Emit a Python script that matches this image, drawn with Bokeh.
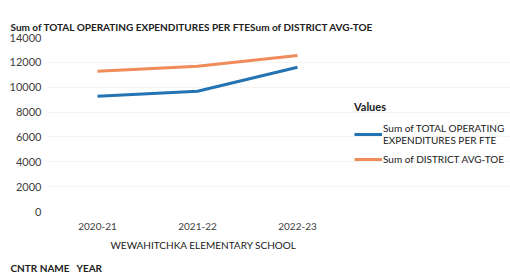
from bokeh.plotting import figure
from bokeh.models import Legend, LegendItem, ColumnDataSource, Title, Range1d, FixedTicker
from bokeh.embed import file_html
from bokeh.resources import INLINE

years = ["2020-21", "2021-22", "2022-23"]
total_opex_per_fte = [9280, 9680, 11600]
district_avg_toe = [11280, 11680, 12560]
series_names = ["Sum of TOTAL OPERATING\nEXPENDITURES PER FTE", "Sum of DISTRICT AVG-TOE"]
title_text = "Sum of TOTAL OPERATING EXPENDITURES PER FTESum of DISTRICT AVG-TOE"
school = "WEWAHITCHKA ELEMENTARY SCHOOL"
bottom_text = "CNTR NAME\u00a0\u00a0\u00a0YEAR"
y_ticks = [0, 2000, 4000, 6000, 8000, 10000, 12000, 14000]

FONT = "Lato"

x_idx = list(range(len(years)))
src = ColumnDataSource(dict(x=x_idx, a=total_opex_per_fte, b=district_avg_toe))

p = figure(width=510, height=280, x_range=Range1d(-0.5, 4.13), y_range=Range1d(0, 14000),
           output_backend="svg", toolbar_location=None,
           min_border_left=47, min_border_right=0, min_border_top=37, min_border_bottom=69)
p.outline_line_color = None
p.background_fill_color = "white"

r1 = p.line("x", "a", source=src, line_color="#2473b3", line_width=3)
r2 = p.line("x", "b", source=src, line_color="#ef8c5a", line_width=3)

p.xgrid.grid_line_color = None
p.ygrid.grid_line_color = "#f4f4f4"
p.ygrid.ticker = FixedTicker(ticks=y_ticks)
p.yaxis.ticker = FixedTicker(ticks=y_ticks)
p.xaxis.ticker = FixedTicker(ticks=x_idx)
p.xaxis.major_label_overrides = {i: y for i, y in zip(x_idx, years)}
p.yaxis.formatter.use_scientific = False

for ax in (p.xaxis[0], p.yaxis[0]):
    ax.axis_line_color = None
    ax.major_tick_line_color = None
    ax.minor_tick_line_color = None
    ax.major_tick_out = 0
    ax.major_tick_in = 0
    ax.major_label_text_font = FONT
    ax.major_label_text_color = "#404040"

p.yaxis.major_label_text_font_size = "11px"
p.yaxis.major_label_standoff = 6
p.xaxis.major_label_text_font_size = "10px"
p.xaxis.major_label_standoff = 11

p.add_layout(Title(text=title_text, align="left", offset=-37,
                   text_font=FONT, text_font_size="10px", text_font_style="bold",
                   text_color="#202020"), "above")
p.add_layout(Title(text=school, align="left", offset=63, standoff=9,
                   text_font=FONT, text_font_size="10px", text_font_style="normal",
                   text_color="#202020"), "below")
p.add_layout(Title(text=bottom_text, align="left", offset=-37, standoff=8,
                   text_font=FONT, text_font_size="10px", text_font_style="bold",
                   text_color="#202020"), "below")

legend = Legend(items=[LegendItem(label=series_names[0], renderers=[r1]),
                       LegendItem(label=series_names[1], renderers=[r2])],
                location=(307, 45), title="Values",
                title_text_font=FONT, title_text_font_size="11px",
                title_text_font_style="bold", title_text_color="#202020",
                title_standoff=9,
                label_text_font=FONT, label_text_font_size="10px",
                label_text_color="#202020",
                glyph_width=28, glyph_height=14, label_standoff=1,
                spacing=6, padding=2, margin=0,
                border_line_color=None, background_fill_alpha=0)
p.add_layout(legend, "center")

open("out.html", "w").write(file_html(p, INLINE))
